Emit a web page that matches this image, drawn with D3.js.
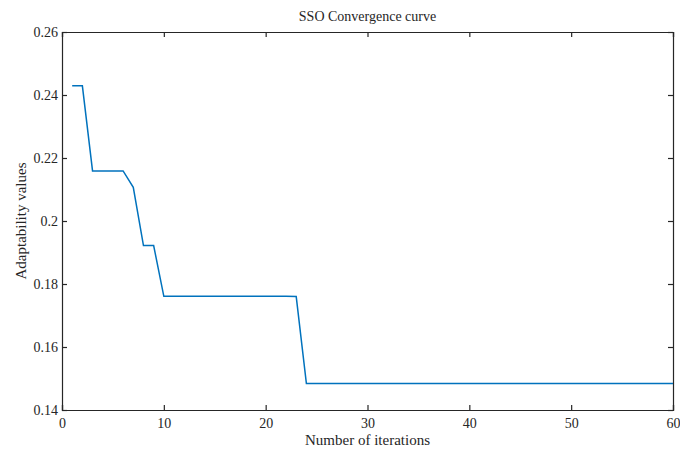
<!DOCTYPE html>
<html>
<head>
<meta charset="utf-8">
<script src="https://cdn.jsdelivr.net/npm/d3@7.9.0/dist/d3.min.js"></script>
<style>
  body { margin: 0; background: #fff; }
  text { font-family: "Liberation Serif", "DejaVu Serif", serif; fill: #262626; }
</style>
</head>
<body>
<div id="chart"></div>
<script>
// convergence data
const iterations = d3.range(1, 61);
const fitness = [
  0.2429, 0.2429, 0.2159, 0.2159, 0.2159, 0.2159, 0.2107, 0.1922, 0.1922, 0.1761,
  0.1761, 0.1761, 0.1761, 0.1761, 0.1761, 0.1761, 0.1761, 0.1761, 0.1761, 0.1761,
  0.1761, 0.1761, 0.1760, 0.1484, 0.1484, 0.1484, 0.1484, 0.1484, 0.1484, 0.1484,
  0.1484, 0.1484, 0.1484, 0.1484, 0.1484, 0.1484, 0.1484, 0.1484, 0.1484, 0.1484,
  0.1484, 0.1484, 0.1484, 0.1484, 0.1484, 0.1484, 0.1484, 0.1484, 0.1484, 0.1484,
  0.1484, 0.1484, 0.1484, 0.1484, 0.1484, 0.1484, 0.1484, 0.1484, 0.1484, 0.1484
];
const xTicks = [0, 10, 20, 30, 40, 50, 60];
const yTicks = [0.14, 0.16, 0.18, 0.2, 0.22, 0.24, 0.26];

const width = 680, height = 450;
const margin = { top: 32, right: 7, bottom: 40, left: 62 };
const w = width - margin.left - margin.right;
const h = height - margin.top - margin.bottom;

const svg = d3.select("#chart").append("svg")
  .attr("width", width)
  .attr("height", height);

const g = svg.append("g")
  .attr("transform", `translate(${margin.left},${margin.top})`);

const x = d3.scaleLinear().domain([0, 60]).range([0, w]);
const y = d3.scaleLinear().domain([0.14, 0.26]).range([h, 0]);

const fmt = d => String(+d.toFixed(2));

// axes, MATLAB style with inward ticks on all four sides
const xAxis = g.append("g")
  .attr("transform", `translate(0,${h})`)
  .call(d3.axisBottom(x).tickValues(xTicks).tickSize(-5).tickPadding(8).tickFormat(d3.format("d")));
const yAxis = g.append("g")
  .call(d3.axisLeft(y).tickValues(yTicks).tickSize(-5).tickPadding(4).tickFormat(fmt));
const xTop = g.append("g")
  .call(d3.axisTop(x).tickValues(xTicks).tickSize(-5).tickFormat(""));
const yRight = g.append("g")
  .attr("transform", `translate(${w},0)`)
  .call(d3.axisRight(y).tickValues(yTicks).tickSize(-5).tickFormat(""));

[xAxis, yAxis, xTop, yRight].forEach(a => {
  a.select(".domain").attr("stroke", "#262626").attr("stroke-width", 1.2);
  a.selectAll(".tick line").attr("stroke", "#262626").attr("stroke-width", 1.2);
  a.selectAll(".tick text").style("font-size", "14px").attr("fill", "#262626");
});

g.append("path")
  .datum(iterations.map((it, i) => [it, fitness[i]]))
  .attr("fill", "none")
  .attr("stroke", "#0072BD")
  .attr("stroke-width", 1.5)
  .attr("d", d3.line().x(d => x(d[0])).y(d => y(d[1])));

svg.append("text")
  .attr("x", margin.left + w / 2)
  .attr("y", 21)
  .attr("text-anchor", "middle")
  .style("font-size", "14px")
  .text("SSO Convergence curve");

svg.append("text")
  .attr("x", margin.left + w / 2)
  .attr("y", 445)
  .attr("text-anchor", "middle")
  .style("font-size", "15px")
  .text("Number of iterations");

svg.append("text")
  .attr("transform", `translate(26,${margin.top + h / 2}) rotate(-90)`)
  .attr("text-anchor", "middle")
  .style("font-size", "15px")
  .text("Adaptability values");
</script>
</body>
</html>
